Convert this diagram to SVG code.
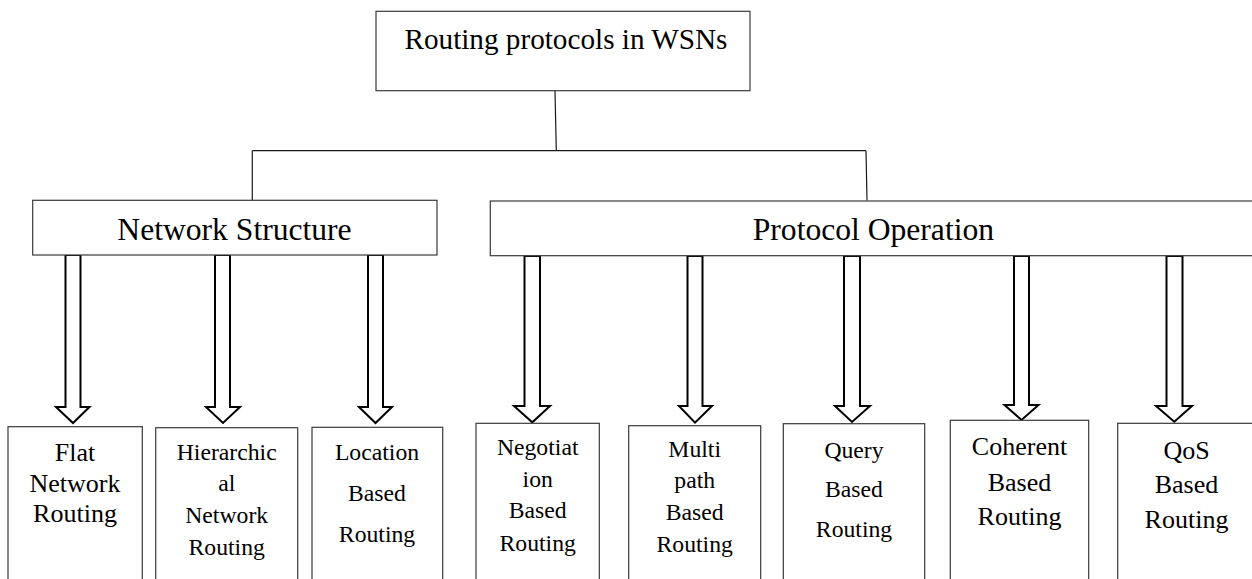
<svg xmlns="http://www.w3.org/2000/svg" width="1252" height="579" viewBox="0 0 1252 579">
  <style>
    .box { fill: #ffffff; stroke: #3a3a3a; stroke-width: 1.2; }
    .link { fill: none; stroke: #1a1a1a; stroke-width: 1.2; }
    .arrow { fill: #ffffff; stroke: #000000; stroke-width: 2; stroke-linejoin: miter; }
    text { font-family: 'Liberation Serif', 'DejaVu Serif', serif; fill: #000000; text-anchor: middle; }
    .h0 { font-size: 29.2px; }
    .h1 { font-size: 31.6px; }
    .big { font-size: 26px; }
    .small { font-size: 23.7px; }
  </style>
  <rect width="1252" height="579" fill="#ffffff"/>

  <g font-family="Liberation Serif, DejaVu Serif, serif">
  <!-- root -->
  <g id="root">
    <rect class="box" x="376" y="11.3" width="374" height="79.4"/>
    <text class="h0" x="566" y="49">Routing protocols in WSNs</text>
  </g>

  <!-- tree connectors from the root to the two categories -->
  <g id="connectors">
    <path class="link" d="M555 91 L556.3 150.7"/>
    <path class="link" d="M252.3 150.7 H866"/>
    <path class="link" d="M252.3 150.7 V200.3"/>
    <path class="link" d="M866 150.7 L867 200.5"/>

    <!-- hollow block arrows: category -> routing family -->
    <path class="arrow" d="M65.5 255 V407 H56 L73 423 L89.5 407 H80.5 V255 Z"/>
    <path class="arrow" d="M215 255 V407 H206 L223 423 L240 407 H230 V255 Z"/>
    <path class="arrow" d="M368 255 V407 H359 L375.5 423 L392 407 H383 V255 Z"/>

    <path class="arrow" d="M524.5 256 V406 H514 L532.3 422.3 L550 406 H540 V256 Z"/>
    <path class="arrow" d="M687.5 256 V406 H679 L695 422.7 L712 406 H702.5 V256 Z"/>
    <path class="arrow" d="M844 256 V406 H835 L852 422 L870 406 H860 V256 Z"/>
    <path class="arrow" d="M1014 256 V405 H1004.5 L1021.5 420 L1038.5 405 H1029 V256 Z"/>
    <path class="arrow" d="M1166.5 256 V406 H1156 L1174.3 421.7 L1192 406 H1182.5 V256 Z"/>
  </g>

  <!-- categories -->
  <g id="network-structure">
    <rect class="box" x="32.7" y="200.3" width="404.3" height="54.7"/>
    <text class="h1" x="234.5" y="240">Network Structure</text>
  </g>
  <g id="protocol-operation">
    <rect class="box" x="490.3" y="201" width="775" height="54.7"/>
    <text class="h1" x="873.4" y="240">Protocol Operation</text>
  </g>

  <!-- routing families -->
  <g id="flat">
    <rect class="box" x="8" y="426.7" width="134.3" height="180"/>
    <text class="big" x="75" y="460.7">Flat</text>
    <text class="big" x="75" y="491.7">Network</text>
    <text class="big" x="75" y="521.7">Routing</text>
  </g>
  <g id="hierarchical">
    <rect class="box" x="155.7" y="427.7" width="142" height="180"/>
    <text class="small" x="226.7" y="460">Hierarchic</text>
    <text class="small" x="226.7" y="490.7">al</text>
    <text class="small" x="226.7" y="522.7">Network</text>
    <text class="small" x="226.7" y="555">Routing</text>
  </g>
  <g id="location">
    <rect class="box" x="312" y="427.3" width="130.7" height="180"/>
    <text class="small" x="377" y="460">Location</text>
    <text class="small" x="377" y="500.7">Based</text>
    <text class="small" x="377" y="541.7">Routing</text>
  </g>
  <g id="negotiation">
    <rect class="box" x="476" y="423.3" width="123.3" height="180"/>
    <text class="small" x="537.7" y="455">Negotiat</text>
    <text class="small" x="537.7" y="486.7">ion</text>
    <text class="small" x="537.7" y="518.3">Based</text>
    <text class="small" x="537.7" y="550.7">Routing</text>
  </g>
  <g id="multipath">
    <rect class="box" x="628.7" y="425.7" width="132" height="180"/>
    <text class="small" x="694.7" y="456.7">Multi</text>
    <text class="small" x="694.7" y="488.3">path</text>
    <text class="small" x="694.7" y="520">Based</text>
    <text class="small" x="694.7" y="551.7">Routing</text>
  </g>
  <g id="query">
    <rect class="box" x="783.3" y="423.7" width="141.4" height="180"/>
    <text class="small" x="854" y="458">Query</text>
    <text class="small" x="854" y="496.7">Based</text>
    <text class="small" x="854" y="536.7">Routing</text>
  </g>
  <g id="coherent">
    <rect class="box" x="950.3" y="420.3" width="138.4" height="180"/>
    <text class="big" x="1019.5" y="455">Coherent</text>
    <text class="big" x="1019.5" y="490.5">Based</text>
    <text class="big" x="1019.5" y="525">Routing</text>
  </g>
  <g id="qos">
    <rect class="box" x="1117.7" y="423.3" width="150" height="180"/>
    <text class="big" x="1186.5" y="459">QoS</text>
    <text class="big" x="1186.5" y="493.3">Based</text>
    <text class="big" x="1186.5" y="528.3">Routing</text>
  </g>
  </g>
</svg>
